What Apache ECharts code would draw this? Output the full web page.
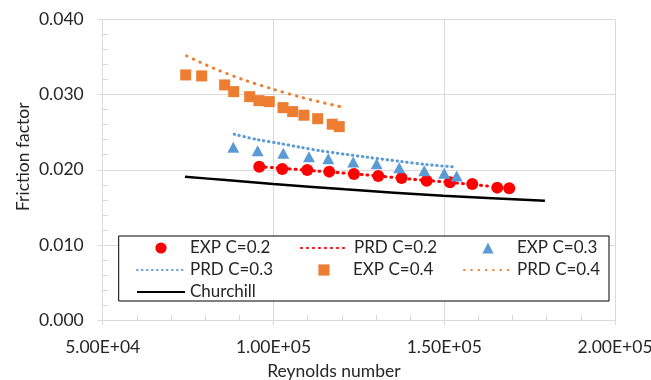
<!DOCTYPE html>
<html>
<head>
<meta charset="utf-8">
<script src="https://cdn.jsdelivr.net/npm/echarts@6/dist/echarts.min.js"></script>
<style>html,body{margin:0;padding:0;background:#fff}#c{width:651px;height:380px}</style>
</head>
<body>
<div id="c"></div>
<script>
// ---- data ----
const xTickLabels = ['5.00E+04', '1.00E+05', '1.50E+05', '2.00E+05'];
const yTickLabels = ['0.000', '0.010', '0.020', '0.030', '0.040'];

const expC02Re = [95840, 102580, 109890, 116330, 123560, 130680, 137530, 144850, 151670, 158200, 165520, 169030];
const expC02f  = [0.02041, 0.02011, 0.01997, 0.01975, 0.01944, 0.01917, 0.01891, 0.01855, 0.01834, 0.01811, 0.01762, 0.01754];

const prdC02Re = [95840, 99940, 112650, 127280, 140930, 152000, 163000];
const prdC02f  = [0.02040, 0.02028, 0.01984, 0.01931, 0.01873, 0.01830, 0.01782];

const expC03Re = [88230, 95370, 102870, 110390, 116040, 123360, 130210, 136830, 144150, 150000, 153630];
const expC03f  = [0.02300, 0.02254, 0.02220, 0.02174, 0.02148, 0.02104, 0.02081, 0.02028, 0.01988, 0.01953, 0.01917];

const prdC03Re = [88520, 95370, 101900, 107760, 113820, 127580, 137030, 145000, 153130];
const prdC03f  = [0.02473, 0.02400, 0.02350, 0.02300, 0.02252, 0.02166, 0.02112, 0.02068, 0.02038];

const expC04Re = [74300, 78980, 85710, 88350, 93030, 95750, 98770, 102780, 105620, 108930, 112940, 117210, 119260];
const expC04f  = [0.03262, 0.03249, 0.03129, 0.03040, 0.02973, 0.02920, 0.02907, 0.02827, 0.02774, 0.02726, 0.02680, 0.02606, 0.02574];

const prdC04Re = [74590, 82960, 91360, 99940, 108550, 119470];
const prdC04f  = [0.03515, 0.03342, 0.03196, 0.03072, 0.02960, 0.02840];

const churchillRe = [74090, 86000, 99940, 120930, 149710, 179480];
const churchillF  = [0.01908, 0.01862, 0.01810, 0.01740, 0.01654, 0.01589];

const seriesNames = ['EXP C=0.2', 'PRD C=0.2', 'EXP C=0.3', 'PRD C=0.3', 'EXP C=0.4', 'PRD C=0.4', 'Churchill'];

// ---- build ----
const zip = (a, b) => a.map((v, i) => [v, b[i]]);
const FONT = 'Lato';
const TXT = '#262626';
const GRIDC = '#d9d9d9';

const chart = echarts.init(document.getElementById('c'), null, {renderer: 'canvas'});

const markerSeries = (name, re, f, symbol, size, color) => ({
  name, type: 'line', data: zip(re, f), symbol, symbolSize: size, showSymbol: true,
  itemStyle: {color}, lineStyle: {opacity: 0, width: 0}, z: 5
});
const curveSeries = (name, re, f, color, width, type, cap) => ({
  name, type: 'line', data: zip(re, f), symbol: 'none', smooth: 0.3,
  itemStyle: {color}, lineStyle: {color, width, type, cap}, z: 4
});

const hidden = {opacity: 0};
const option = {
  animation: false,
  backgroundColor: '#fff',
  textStyle: {fontFamily: FONT},
  grid: {left: 102.7, right: 36, top: 19.5, bottom: 60, containLabel: false, outerBoundsMode: 'none'},
  xAxis: [
    {
      type: 'value', min: 50000, max: 200000, interval: 50000,
      name: 'Reynolds number', nameLocation: 'middle', nameGap: 42,
      nameTextStyle: {fontFamily: FONT, fontSize: 17.5, color: TXT, padding: [0, 50, 0, 0]},
      axisLine: {show: true, lineStyle: {color: GRIDC, width: 1}},
      axisTick: {show: true, inside: false, length: 5, lineStyle: {color: GRIDC}},
      axisLabel: {margin: 18, fontFamily: FONT, fontSize: 17.5, color: TXT,
        formatter: v => xTickLabels[Math.round((v - 50000) / 50000)]},
      splitLine: {show: true, lineStyle: {color: GRIDC, width: 1}}
    },
    {
      type: 'value', min: 50000, max: 200000, interval: 10000, position: 'bottom',
      axisLine: {show: false},
      axisTick: {show: true, inside: true, length: 5, lineStyle: {color: GRIDC}},
      axisLabel: {show: false}, splitLine: {show: false}
    }
  ],
  yAxis: [
    {
      type: 'value', min: 0, max: 0.04, interval: 0.01,
      name: 'Friction factor', nameLocation: 'middle', nameGap: 70, nameMoveOverlap: false,
      nameTextStyle: {fontFamily: FONT, fontSize: 17.5, color: TXT, padding: [0, 0, 0, 26]},
      axisLine: {show: true, lineStyle: {color: GRIDC, width: 1}},
      axisTick: {show: true, inside: false, length: 5, lineStyle: {color: GRIDC}},
      axisLabel: {margin: 19, fontFamily: FONT, fontSize: 17.5, color: TXT, align: 'right',
        formatter: v => yTickLabels[Math.round(v / 0.01)]},
      splitLine: {show: true, lineStyle: {color: GRIDC, width: 1}}
    },
    {
      type: 'value', min: 0, max: 0.04, interval: 0.002, position: 'left',
      axisLine: {show: false},
      axisTick: {show: true, inside: true, length: 5, lineStyle: {color: GRIDC}},
      axisLabel: {show: false}, splitLine: {show: false}
    }
  ],
  legend: {
    left: 118.7, top: 236, orient: 'horizontal', width: 478,
    padding: [3.5, 2, 0.5, 17.3],
    itemWidth: 48, itemHeight: 14, itemGap: 5,
    borderColor: '#000', borderWidth: 1, backgroundColor: '#fff',
    textStyle: {fontFamily: FONT, fontSize: 17, color: TXT, width: 105, lineHeight: 17},
    data: [
      {name: seriesNames[0]},
      {name: seriesNames[1], itemStyle: hidden},
      {name: seriesNames[2], textStyle: {width: 90}},
      {name: seriesNames[3], itemStyle: hidden},
      {name: seriesNames[4]},
      {name: seriesNames[5], itemStyle: hidden, textStyle: {width: 90}},
      {name: seriesNames[6], itemStyle: hidden}
    ]
  },
  series: [
    markerSeries(seriesNames[0], expC02Re, expC02f, 'circle', 12, '#ff0000'),
    curveSeries(seriesNames[1], prdC02Re, prdC02f, '#ff0000', 3, [1, 5], 'round'),
    markerSeries(seriesNames[2], expC03Re, expC03f, 'triangle', [12, 11], '#5b9bd5'),
    curveSeries(seriesNames[3], prdC03Re, prdC03f, '#5b9bd5', 3, [0.5, 4.5], 'round'),
    markerSeries(seriesNames[4], expC04Re, expC04f, 'rect', 11, '#ed7d31'),
    curveSeries(seriesNames[5], prdC04Re, prdC04f, '#ed7d31', 3, [0.5, 6.8], 'round'),
    curveSeries(seriesNames[6], churchillRe, churchillF, '#000', 2.5, 'solid', 'butt')
  ]
};
chart.setOption(option);
</script>
</body>
</html>
